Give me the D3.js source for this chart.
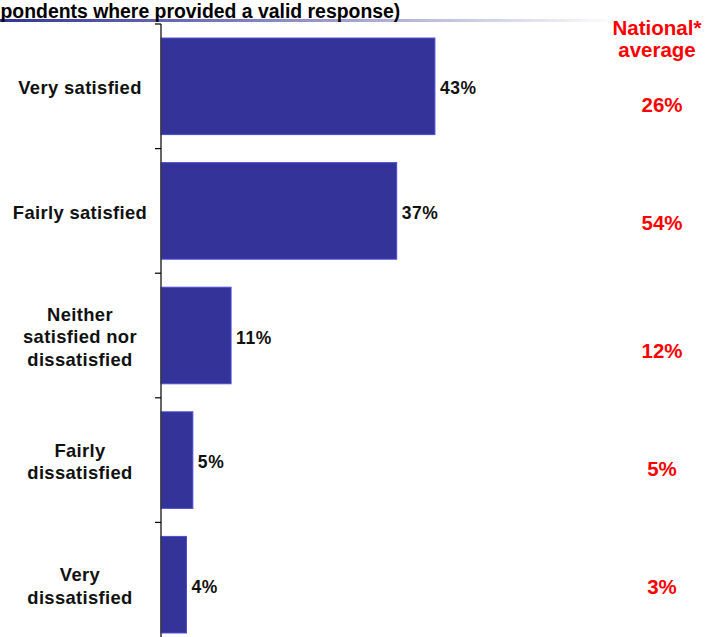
<!DOCTYPE html>
<html>
<head>
<meta charset="utf-8">
<script src="https://cdn.jsdelivr.net/npm/d3@7"></script>
<style>
  html, body { margin: 0; padding: 0; background: #fff; }
  svg { display: block; }
</style>
</head>
<body>
<script>
// Satisfaction responses vs. national average
const categories = [
  "Very satisfied",
  "Fairly satisfied",
  "Neither satisfied nor dissatisfied",
  "Fairly dissatisfied",
  "Very dissatisfied"
];
const categoryLines = [
  ["Very satisfied"],
  ["Fairly satisfied"],
  ["Neither", "satisfied nor", "dissatisfied"],
  ["Fairly", "dissatisfied"],
  ["Very", "dissatisfied"]
];
const localValues = [43, 37, 11, 5, 4];
const nationalValues = [26, 54, 12, 5, 3];
const titleText = "pondents where provided a valid response)";
const nationalHeader = ["National*", "average"];

// Layout
const W = 713, H = 637;
const axisX = 161;
const nationalX = 662;
const nationalDy = [19, 12, 15, 9, 2];
const font = "Liberation Sans, Arial, sans-serif";

const svg = d3.select("body").append("svg")
  .attr("width", W).attr("height", H);

const defs = svg.append("defs");
const grad = defs.append("linearGradient").attr("id", "rule")
  .attr("x1", "0%").attr("x2", "100%").attr("y1", "0%").attr("y2", "0%");
grad.append("stop").attr("offset", "0%").attr("stop-color", "#333399");
grad.append("stop").attr("offset", "45%").attr("stop-color", "#8a8ac4");
grad.append("stop").attr("offset", "100%").attr("stop-color", "#ffffff");

// Title rule and title
svg.append("rect").attr("x", 0).attr("y", 19).attr("width", 620).attr("height", 3)
  .attr("fill", "url(#rule)");
svg.append("text")
  .attr("x", 0.5).attr("y", 18)
  .attr("font-family", font)
  .attr("font-weight", "bold").attr("font-size", 19.4)
  .attr("fill", "#000").text(titleText);

const x = d3.scaleLinear().domain([0, 100]).range([axisX, axisX + 637]);
const y = d3.scaleBand().domain(categories).range([24, 647]).paddingInner(0.225).paddingOuter(0.1125);

// Bars
svg.selectAll("rect.bar").data(localValues).join("rect")
  .attr("class", "bar")
  .attr("x", x(0))
  .attr("y", (d, i) => y(categories[i]))
  .attr("width", d => x(d) - x(0))
  .attr("height", y.bandwidth())
  .attr("fill", "#333399")
  .attr("stroke", "#4c4cd6").attr("stroke-width", 1);

// Category axis: a vertical rule with ticks on band boundaries
const gAxis = svg.append("g").attr("transform", `translate(${axisX},0)`);
gAxis.append("line").attr("x1", 0).attr("x2", 0).attr("y1", 24).attr("y2", 647)
  .attr("stroke", "#333").attr("stroke-width", 1.5);
const boundaries = categories.map(c => y(c) - y.step() * y.paddingInner() / 2);
gAxis.selectAll("line.bt").data(boundaries).join("line")
  .attr("class", "bt")
  .attr("x1", -6).attr("x2", 0)
  .attr("y1", d => d).attr("y2", d => d)
  .attr("stroke", "#000").attr("stroke-width", 1.2);

// Category labels
categoryLines.forEach((lines, i) => {
  const cy = y(categories[i]) + y.bandwidth() / 2 + 1.5;
  const lh = 22.5;
  const t = svg.append("text")
    .attr("text-anchor", "middle")
    .attr("font-family", font).attr("font-weight", "bold").attr("font-size", 18.4)
    .attr("letter-spacing", 0.35)
    .attr("fill", "#111");
  lines.forEach((ln, j) => {
    t.append("tspan").attr("x", 80)
      .attr("y", cy + (j - (lines.length - 1) / 2) * lh)
      .attr("dy", "0.35em").text(ln);
  });
});

// Value labels
svg.selectAll("text.val").data(localValues).join("text")
  .attr("class", "val")
  .attr("x", d => x(d) + 5)
  .attr("y", (d, i) => y(categories[i]) + y.bandwidth() / 2 + 2)
  .attr("dy", "0.35em")
  .attr("font-family", font).attr("font-weight", "bold").attr("font-size", 17.5)
  .attr("letter-spacing", 0.6)
  .attr("fill", "#111")
  .text(d => d + "%");

// National average column
const nh = svg.append("text").attr("text-anchor", "middle")
  .attr("font-family", font).attr("font-weight", "bold").attr("font-size", 20.5)
  .attr("fill", "#ff0000");
nationalHeader.forEach((ln, j) => {
  nh.append("tspan").attr("x", 657).attr("y", 35 + j * 21.5).text(ln);
});
svg.selectAll("text.nat").data(nationalValues).join("text")
  .attr("class", "nat")
  .attr("x", nationalX)
  .attr("y", (d, i) => y(categories[i]) + y.bandwidth() / 2 + nationalDy[i])
  .attr("dy", "0.35em")
  .attr("text-anchor", "middle")
  .attr("font-family", font).attr("font-weight", "bold").attr("font-size", 20.5)
  .attr("fill", "#ff0000")
  .text(d => d + "%");
</script>
</body>
</html>
